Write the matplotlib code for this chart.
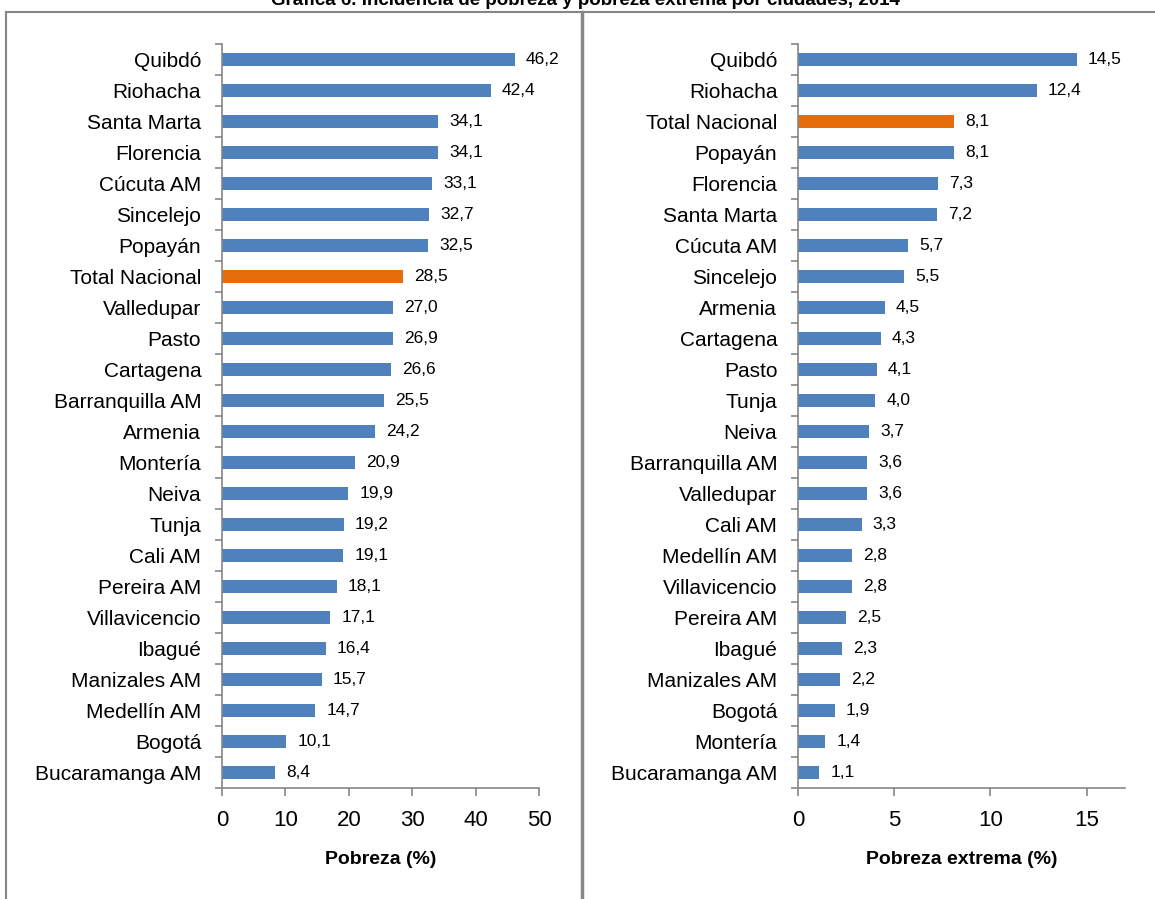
import matplotlib.pyplot as plt
from matplotlib.lines import Line2D

plt.rcParams['font.family'] = ['Liberation Sans Narrow', 'Liberation Sans', 'DejaVu Sans']

# datos: pobreza (%)
ciudades_p = ["Quibdó", "Riohacha", "Santa Marta", "Florencia", "Cúcuta AM", "Sincelejo",
              "Popayán", "Total Nacional", "Valledupar", "Pasto", "Cartagena",
              "Barranquilla AM", "Armenia", "Montería", "Neiva", "Tunja", "Cali AM",
              "Pereira AM", "Villavicencio", "Ibagué", "Manizales AM", "Medellín AM",
              "Bogotá", "Bucaramanga AM"]
pobreza = [46.2, 42.4, 34.1, 34.1, 33.1, 32.7, 32.5, 28.5, 27.0, 26.9, 26.6, 25.5,
           24.2, 20.9, 19.9, 19.2, 19.1, 18.1, 17.1, 16.4, 15.7, 14.7, 10.1, 8.4]

# datos: pobreza extrema (%)
ciudades_e = ["Quibdó", "Riohacha", "Total Nacional", "Popayán", "Florencia", "Santa Marta",
              "Cúcuta AM", "Sincelejo", "Armenia", "Cartagena", "Pasto", "Tunja", "Neiva",
              "Barranquilla AM", "Valledupar", "Cali AM", "Medellín AM", "Villavicencio",
              "Pereira AM", "Ibagué", "Manizales AM", "Bogotá", "Montería", "Bucaramanga AM"]
extrema = [14.5, 12.4, 8.1, 8.1, 7.3, 7.2, 5.7, 5.5, 4.5, 4.3, 4.1, 4.0, 3.7, 3.6,
           3.6, 3.3, 2.8, 2.8, 2.5, 2.3, 2.2, 1.9, 1.4, 1.1]

azul = "#4F81BD"
naranja = "#E46C0A"
gris = "#868686"

fig = plt.figure(figsize=(11.55, 8.99), dpi=100)


def panel(rect, nombres, valores, xmax, xticks, xlabel):
    ax = fig.add_axes(rect)
    n = len(nombres)
    pos = list(range(n))
    colores = [naranja if c == "Total Nacional" else azul for c in nombres]
    ax.barh(pos, valores, height=0.42, color=colores)
    for p, v in zip(pos, valores):
        ax.annotate(f"{v:.1f}".replace(".", ","), (v, p), xytext=(8, 0),
                    textcoords="offset points", va="center", ha="left", fontsize=12.5)
    ax.set_ylim(n - 0.5, -0.5)
    ax.set_xlim(0, xmax)
    ax.set_yticks([i - 0.5 for i in range(n + 1)])
    ax.set_yticklabels([])
    ax.set_yticks(pos, minor=True)
    ax.set_yticklabels(nombres, minor=True, fontsize=15)
    ax.tick_params(axis="y", which="major", length=5, color=gris, width=1.2)
    ax.tick_params(axis="y", which="minor", length=0, pad=15)
    ax.set_xticks(xticks)
    ax.tick_params(axis="x", length=6, color=gris, width=1.2, labelsize=16, pad=10)
    for s in ["top", "right"]:
        ax.spines[s].set_visible(False)
    for s in ["left", "bottom"]:
        ax.spines[s].set_color(gris)
        ax.spines[s].set_linewidth(1.2)
    ax.set_xlabel(xlabel, fontsize=14, fontweight="bold", labelpad=14)
    return ax


panel([0.1922, 0.1235, 0.2745, 0.8277], ciudades_p, pobreza, 50,
      [0, 10, 20, 30, 40, 50], "Pobreza (%)")
panel([0.691, 0.1235, 0.283, 0.8277], ciudades_e, extrema, 17,
      [0, 5, 10, 15], "Pobreza extrema (%)")

# marcos de los paneles
fig.add_artist(Line2D([0.005, 1.0], [1 - 12 / 899, 1 - 12 / 899], color=gris, lw=1.5))
fig.add_artist(Line2D([0.005, 0.005], [0, 1 - 12 / 899], color=gris, lw=1.5))
fig.add_artist(Line2D([0.5035, 0.5035], [0, 1 - 12 / 899], color=gris, lw=2.5))

fig.text(0.507, 0.999, "Gráfica 6. Incidencia de pobreza y pobreza extrema por ciudades, 2014",
         ha="center", va="center", fontsize=13.5, fontweight="bold")

fig.savefig("out.png", dpi=100)
